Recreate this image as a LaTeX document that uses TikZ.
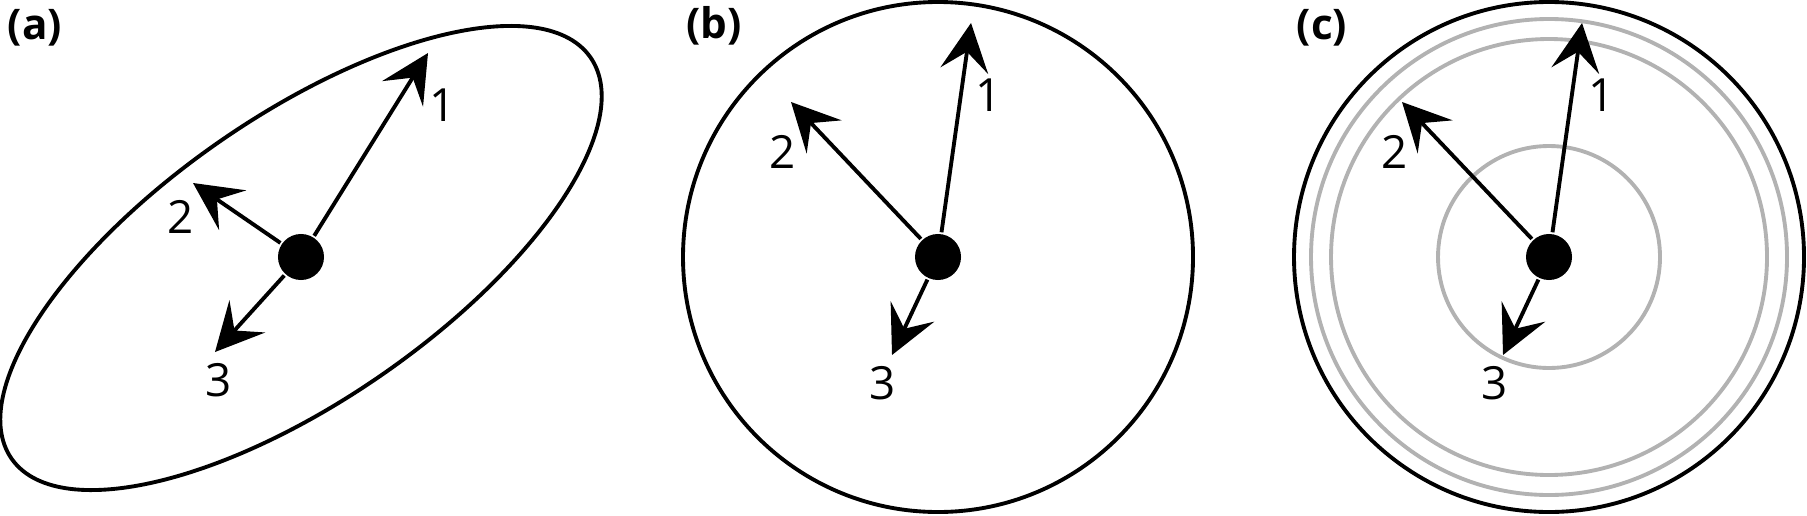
\documentclass[tikz,border=0pt]{standalone}
\usepackage{fontspec}
\setmainfont{Open Sans}
\usetikzlibrary{positioning}
\usetikzlibrary{arrows.meta,shapes.geometric}

\begin{document}
\begin{tikzpicture}[x=0.01cm,y=-0.01cm,line width=1.1pt,
    >={Stealth[length=0.48cm,width=0.48cm,inset=0.19cm]},
    dot/.style={circle,fill=black,inner sep=0pt,minimum size=0.46cm},
    num/.style={font=\fontsize{13}{15}\selectfont},
    tag/.style={font=\fontsize{12}{14}\selectfont\bfseries},
    ring/.style={draw=black!30}]
  \useasboundingbox (0,0) rectangle (1807,515);

  % (a) stretched cloud
  \node[tag] (La) at (35,28) {(a)};
  \node[draw,ellipse,inner sep=0pt,rotate=34.7,minimum width=7.04cm,minimum height=2.84cm] (E) at (301,258) {};
  \node[dot] (A) at (301,257) {};
  \coordinate (A1) at (428,53);
  \coordinate (A2) at (193,183);
  \coordinate (A3) at (215,352);
  \draw[->] (A) -- (A1);
  \draw[->] (A) -- (A2);
  \draw[->] (A) -- (A3);
  \node[num] (a1) at (443,105) {1};
  \node[num] (a2) at (181,217) {2};
  \node[num] (a3) at (219,380) {3};

  % (b) round cloud
  \node[tag] (Lb) at (714,26) {(b)};
  \draw (938,257) circle [radius=255];
  \node[dot] (B) at (938,257) {};
  \coordinate (B1) at (971,23);
  \coordinate (B2) at (791,102);
  \coordinate (B3) at (892,355);
  \draw[->] (B) -- (B1);
  \draw[->] (B) -- (B2);
  \draw[->] (B) -- (B3);
  \node[num] (b1) at (989,95) {1};
  \node[num] (b2) at (783,152) {2};
  \node[num] (b3) at (883,383) {3};

  % (c) round cloud with shells
  \node[tag] (Lc) at (1322,28) {(c)};
  \draw[ring] (1549,257) circle [radius=238];
  \draw[ring] (1549,257) circle [radius=218];
  \draw[ring] (1549,257) circle [radius=111];
  \draw (1549,257) circle [radius=255];
  \node[dot] (C) at (1549,257) {};
  \coordinate (C1) at (1582,23);
  \coordinate (C2) at (1402,102);
  \coordinate (C3) at (1503,355);
  \draw[->] (C) -- (C1);
  \draw[->] (C) -- (C2);
  \draw[->] (C) -- (C3);
  \node[num] (c1) at (1602,95) {1};
  \node[num] (c2) at (1395,152) {2};
  \node[num] (c3) at (1495,383) {3};
\end{tikzpicture}
\end{document}
